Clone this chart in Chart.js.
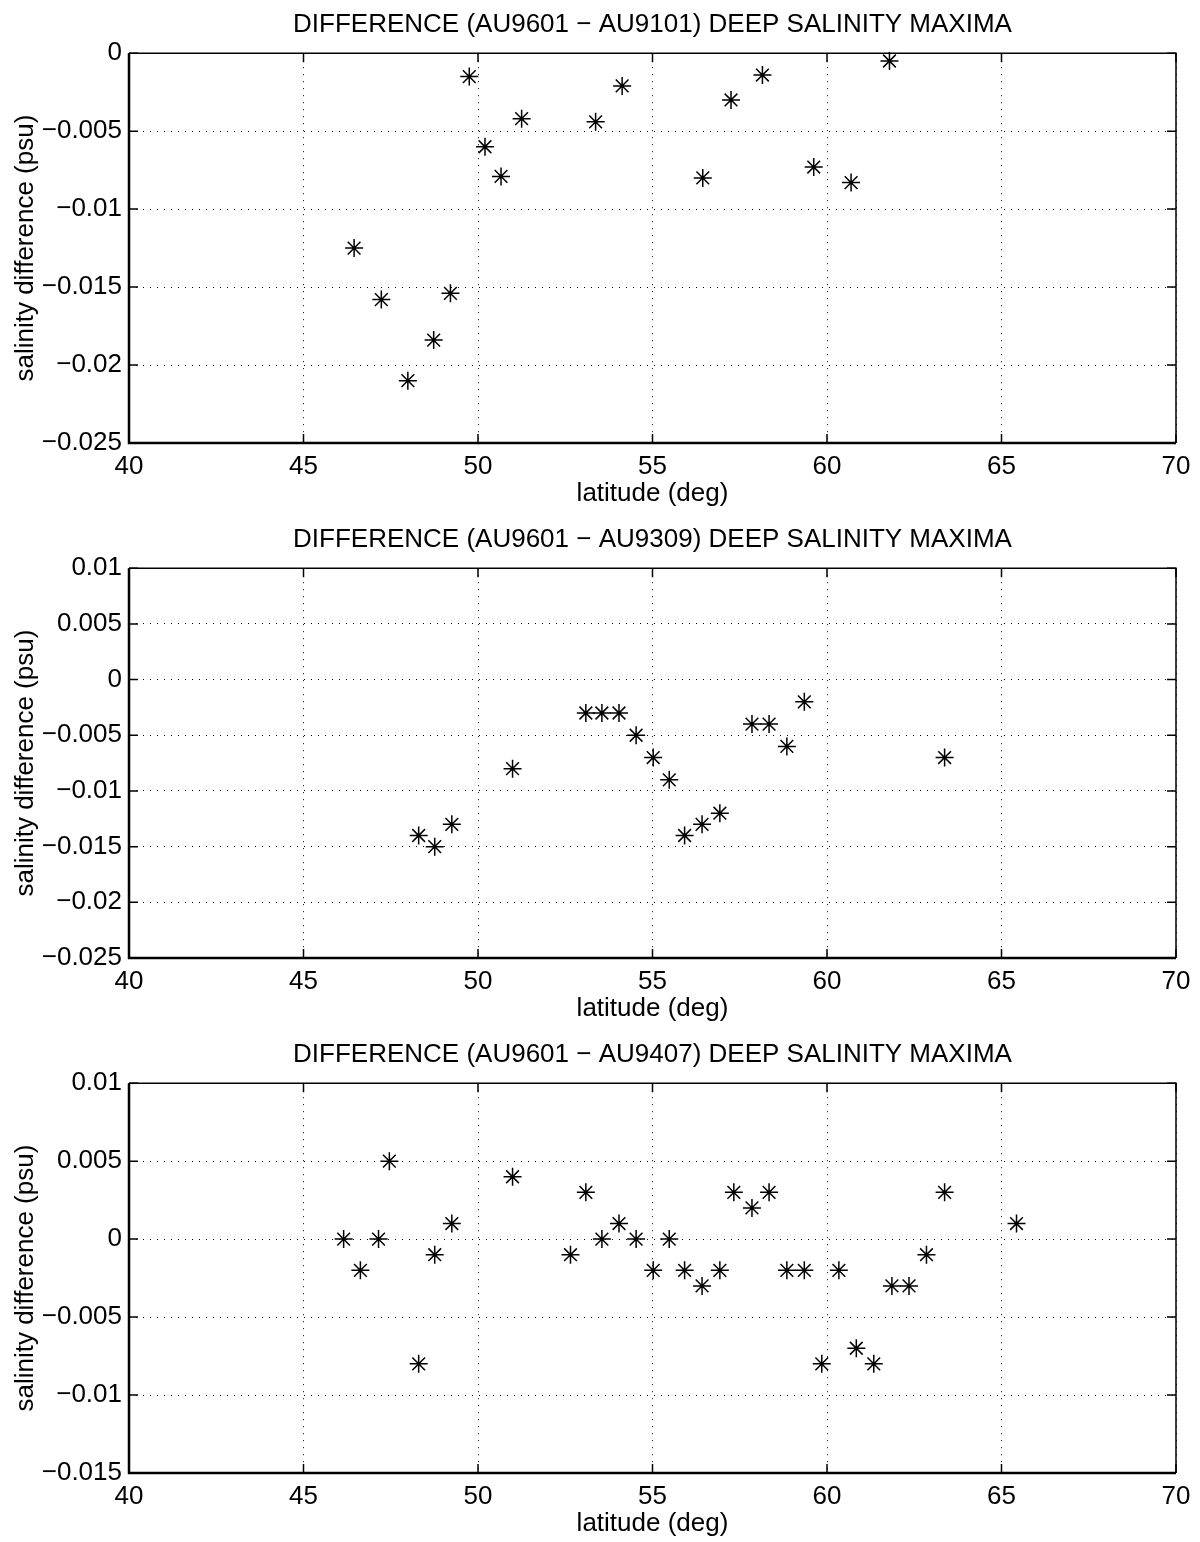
<!DOCTYPE html>
<html>
<head>
<meta charset="utf-8">
<script src="https://cdn.jsdelivr.net/npm/chart.js@4.4.1/dist/chart.umd.min.js"></script>
<style>
    html, body { margin: 0; padding: 0; background: #fff; overflow: hidden; }
    .painel { position: absolute; left: 0; width: 1200px; height: 515px; }
</style>
</head>
<body>
<div class="painel" style="top:0"><canvas id="grafico9101"></canvas></div>
<div class="painel" style="top:515px"><canvas id="grafico9309"></canvas></div>
<div class="painel" style="top:1030px"><canvas id="grafico9407"></canvas></div>
<script>
/* -------------------- DADOS -------------------- */
const xTicks = [40, 45, 50, 55, 60, 65, 70];

// AU9601 - AU9101
const lat9101 = [46.45, 47.23, 47.99, 48.73, 49.21, 49.75, 50.20, 50.66, 51.25, 53.37, 54.13, 56.44, 57.25, 58.15, 59.62, 60.69, 61.79];
const dif9101 = [-0.0125, -0.0158, -0.0210, -0.0184, -0.0154, -0.0015, -0.0060, -0.0079, -0.0042, -0.0044, -0.0021, -0.0080, -0.0030, -0.0014, -0.0073, -0.0083, -0.0005];
const yTicks9101 = [-0.025, -0.02, -0.015, -0.01, -0.005, 0];

// AU9601 - AU9309
const lat9309 = [48.30, 48.76, 49.25, 50.99, 53.09, 53.55, 54.04, 54.53, 55.02, 55.48, 55.92, 56.42, 56.93, 57.85, 58.34, 58.85, 59.35, 63.37];
const dif9309 = [-0.014, -0.015, -0.013, -0.008, -0.003, -0.003, -0.003, -0.005, -0.007, -0.009, -0.014, -0.013, -0.012, -0.004, -0.004, -0.006, -0.002, -0.007];
const yTicks9309 = [-0.025, -0.02, -0.015, -0.01, -0.005, 0, 0.005, 0.01];

// AU9601 - AU9407
const lat9407 = [46.15, 46.63, 47.15, 47.46, 48.30, 48.76, 49.25, 50.99, 52.65, 53.09, 53.55, 54.04, 54.53, 55.02, 55.48, 55.92,
                 56.42, 56.93, 57.33, 57.85, 58.34, 58.85, 59.35, 59.85, 60.34, 60.84, 61.34, 61.86, 62.35, 62.85, 63.37, 65.43];
const dif9407 = [0, -0.002, 0, 0.005, -0.008, -0.001, 0.001, 0.004, -0.001, 0.003, 0, 0.001, 0, -0.002, 0, -0.002,
                 -0.003, -0.002, 0.003, 0.002, 0.003, -0.002, -0.002, -0.008, -0.002, -0.007, -0.008, -0.003, -0.003, -0.001, 0.003, 0.001];
const yTicks9407 = [-0.015, -0.01, -0.005, 0, 0.005, 0.01];

const FONTE = "'Liberation Sans', Arial, Helvetica, sans-serif";

document.addEventListener('DOMContentLoaded', () => {
    montarGrafico("grafico9101", "DIFFERENCE (AU9601 \u2212 AU9101) DEEP SALINITY MAXIMA", lat9101, dif9101, yTicks9101);
    montarGrafico("grafico9309", "DIFFERENCE (AU9601 \u2212 AU9309) DEEP SALINITY MAXIMA", lat9309, dif9309, yTicks9309);
    montarGrafico("grafico9407", "DIFFERENCE (AU9601 \u2212 AU9407) DEEP SALINITY MAXIMA", lat9407, dif9407, yTicks9407);
});

/* -------------------- CAIXA + TICKS INTERNOS -------------------- */
const caixaEixos = {
    id: 'caixaEixos',
    afterDraw(chart) {
        const { ctx, chartArea: a, scales: { x, y } } = chart;
        ctx.save();
        ctx.strokeStyle = '#000';
        ctx.setLineDash([]);

        // topo e direita mais finos
        ctx.lineWidth = 1.5;
        ctx.beginPath();
        ctx.moveTo(a.left, a.top); ctx.lineTo(a.right, a.top); ctx.lineTo(a.right, a.bottom);
        ctx.stroke();

        // esquerda e base
        ctx.lineWidth = 2.5;
        ctx.beginPath();
        ctx.moveTo(a.left, a.top); ctx.lineTo(a.left, a.bottom); ctx.lineTo(a.right, a.bottom);
        ctx.stroke();

        ctx.lineWidth = 1.5;
        ctx.beginPath();
        x.ticks.forEach(t => {
            const px = x.getPixelForValue(t.value);
            ctx.moveTo(px, a.bottom); ctx.lineTo(px, a.bottom - 9);
            ctx.moveTo(px, a.top); ctx.lineTo(px, a.top + 9);
        });
        y.ticks.forEach(t => {
            const py = y.getPixelForValue(t.value);
            ctx.moveTo(a.left, py); ctx.lineTo(a.left + 9, py);
            ctx.moveTo(a.right, py); ctx.lineTo(a.right - 9, py);
        });
        ctx.stroke();
        ctx.restore();
    }
};

function formatarTick(v) {
    const s = String(parseFloat(Number(v).toFixed(4)));
    return s.replace('-', '\u2212');
}

function montarGrafico(id, titulo, lat, dif, yTicks) {
    const ctx = document.getElementById(id);
    if (!ctx) return;

    const fonte = { family: FONTE, size: 26, weight: 'normal' };

    new Chart(ctx, {
        type: "scatter",
        data: {
            datasets: [{
                data: lat.map((x, i) => ({ x, y: dif[i] })),
                pointStyle: "star",
                pointRadius: 9,
                pointHoverRadius: 9,
                borderColor: "#000",
                backgroundColor: "#000",
                borderWidth: 1.5,
                clip: false
            }]
        },
        options: {
            responsive: true,
            maintainAspectRatio: false,
            animation: false,
            events: [],
            layout: { padding: { left: 0, right: 24, top: 0, bottom: 0 } },
            plugins: {
                legend: { display: false },
                tooltip: { enabled: false },
                title: {
                    display: true,
                    fullSize: false,
                    text: titulo,
                    color: "#000",
                    font: { family: FONTE, size: 26, weight: 'normal' },
                    padding: { top: 9, bottom: 13 }
                }
            },
            scales: {
                x: {
                    type: "linear",
                    min: xTicks[0],
                    max: xTicks[xTicks.length - 1],
                    afterBuildTicks: s => { s.ticks = xTicks.map(v => ({ value: v })); },
                    afterFit: s => { s.height = 72; },
                    grid: { color: "#000", lineWidth: 1, drawTicks: false },
                    border: { display: false, dash: [1, 6] },
                    ticks: { color: "#000", font: fonte, padding: 8, maxRotation: 0, autoSkip: false, callback: formatarTick },
                    title: { display: true, text: "latitude (deg)", color: "#000", font: fonte, padding: { top: 0, bottom: 6 } }
                },
                y: {
                    type: "linear",
                    min: yTicks[0],
                    max: yTicks[yTicks.length - 1],
                    afterBuildTicks: s => { s.ticks = yTicks.map(v => ({ value: v })); },
                    afterFit: s => { s.width = 129; },
                    grid: { color: "#000", lineWidth: 1, drawTicks: false },
                    border: { display: false, dash: [1, 6] },
                    ticks: { color: "#000", font: fonte, padding: 7, autoSkip: false, callback: formatarTick },
                    title: { display: true, text: "salinity difference (psu)", color: "#000", font: fonte, padding: { top: 10, bottom: 0 } }
                }
            }
        },
        plugins: [caixaEixos]
    });
}
</script>
</body>
</html>
